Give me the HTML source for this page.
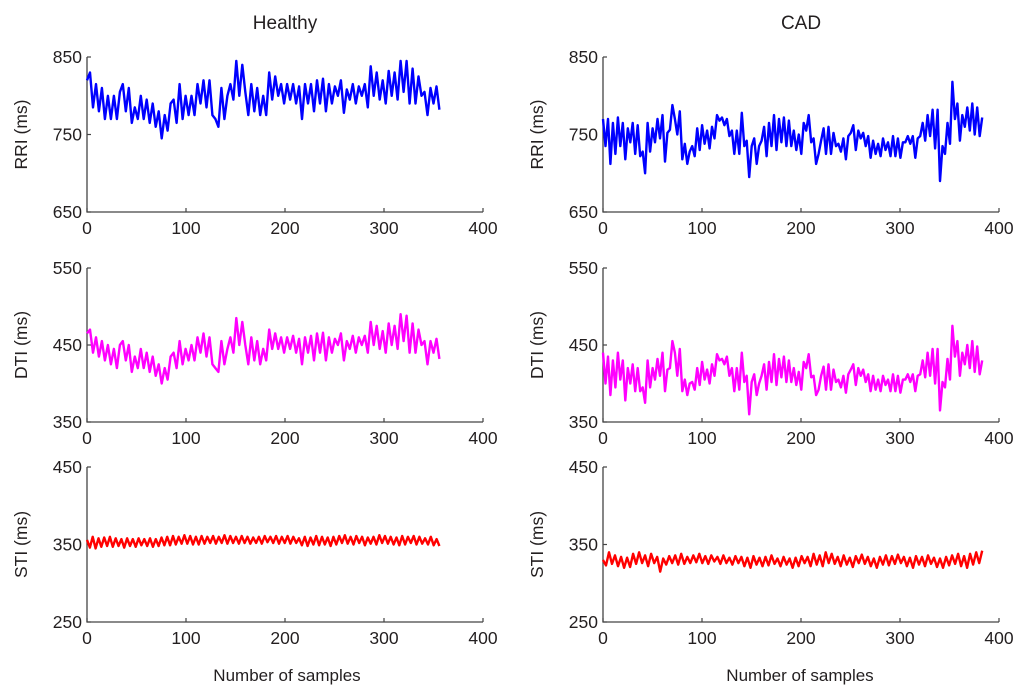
<!DOCTYPE html>
<html><head><meta charset="utf-8"><style>
body{margin:0;background:#fff;}
svg text{font-family:"Liberation Sans",sans-serif;fill:#231f20;}
</style></head><body>
<svg id="fig" width="1024" height="694" viewBox="0 0 1024 694" xmlns="http://www.w3.org/2000/svg">
<text x="285" y="29" font-size="19" text-anchor="middle">Healthy</text>
<text x="801" y="29" font-size="19" text-anchor="middle">CAD</text>
<text x="287" y="681" font-size="17" text-anchor="middle">Number of samples</text>
<text x="800" y="681" font-size="17" text-anchor="middle">Number of samples</text>
</svg>
<script>
const xTicks=[0,100,200,300,400];
const healthyN=356, cadN=383;
const hRRI=[820,830,785,815,780,810,770,800,770,800,770,805,815,780,810,765,785,770,800,770,795,765,790,760,780,745,775,755,790,795,765,815,770,800,775,800,775,815,790,820,785,820,775,770,760,810,770,800,815,795,845,800,840,805,775,815,780,810,775,800,775,830,795,825,800,815,790,815,795,815,790,812,770,815,790,815,780,820,790,822,780,815,790,812,800,820,778,808,795,815,790,812,800,815,785,838,800,830,795,820,790,832,800,830,795,845,805,845,790,835,790,825,800,805,775,810,790,812,782];
const hDTI=[465,470,440,460,435,455,430,450,425,445,420,450,455,430,450,415,435,420,445,420,440,415,435,410,425,400,420,405,435,440,420,455,425,445,430,450,430,460,440,465,435,460,425,420,415,455,425,445,460,440,485,450,480,450,425,460,430,455,425,445,430,470,445,465,445,460,440,460,445,462,440,458,425,460,440,462,430,465,440,466,430,460,440,458,450,465,430,455,445,462,440,460,450,462,440,480,450,475,445,468,440,478,450,475,445,490,455,488,440,478,440,470,450,455,425,455,440,458,432];
const hSTI=[356,346,360,345,358,347,359,348,360,347,358,348,357,346,358,348,357,347,358,349,357,348,358,347,357,348,359,349,360,349,361,350,360,351,362,351,361,350,360,350,361,351,360,352,361,351,360,352,362,351,361,352,360,351,361,352,360,351,359,352,360,351,361,353,360,352,361,351,360,352,361,351,360,352,358,349,360,348,359,350,361,349,360,350,359,348,360,350,361,352,362,351,360,350,361,352,360,349,359,351,360,350,362,352,361,351,360,350,359,349,361,350,360,352,361,350,360,351,358,350,360,349,357,348];
const cRRI=[770,735,770,712,765,725,772,735,765,718,758,740,765,725,762,722,728,700,765,728,758,740,770,745,775,715,752,756,788,770,750,780,718,738,712,728,735,722,758,730,762,738,755,732,760,745,775,768,772,762,770,748,755,725,755,725,778,735,742,695,735,745,712,735,742,760,722,765,735,775,730,770,740,772,735,768,735,755,730,750,725,765,755,775,740,745,712,725,742,758,725,760,725,752,735,738,728,745,718,748,752,762,730,755,745,752,735,748,720,742,725,738,722,745,730,740,722,748,722,745,720,740,740,748,738,748,720,745,748,765,742,775,748,782,732,782,690,735,725,765,738,818,770,790,742,775,760,785,755,790,750,785,748,772];
const cDTI=[440,400,435,385,430,395,440,405,430,378,420,400,425,390,420,390,395,375,430,395,420,405,432,410,440,390,418,420,455,440,410,445,390,405,385,400,402,392,420,398,428,405,418,400,425,410,438,430,432,425,435,410,420,390,420,392,440,402,410,360,402,412,385,400,410,425,392,428,402,438,398,432,408,435,402,430,402,420,398,415,392,428,420,438,408,410,385,392,410,422,392,425,392,418,402,405,395,410,388,412,418,425,398,420,410,418,402,412,390,410,392,405,390,410,398,405,390,412,390,410,388,405,405,412,402,412,390,410,412,430,408,440,410,445,400,445,365,402,395,432,405,475,435,455,410,440,425,450,420,455,415,448,412,430];
const cSTI=[330,323,340,325,336,322,334,320,333,321,338,325,340,326,336,322,338,326,334,315,332,324,335,326,336,324,338,325,334,326,336,327,338,326,335,325,336,328,334,325,336,326,333,324,335,326,334,322,333,320,335,324,333,322,334,323,336,325,332,322,334,324,332,320,333,322,335,326,334,322,338,324,336,322,340,326,338,325,334,322,336,324,333,321,335,326,337,325,334,322,332,320,334,324,336,323,335,325,337,326,334,322,333,320,335,324,334,322,336,325,333,321,332,320,334,323,336,325,338,322,335,320,338,324,340,326,342];
const panels=[
 {d:hRRI,n:healthyN,x0:87,x1:483,yT:57,yB:212,min:650,max:850,ticks:[650,750,850],c:"#0000ff",lab:"RRI (ms)",name:"healthy-rri"},
 {d:hDTI,n:healthyN,x0:87,x1:483,yT:268,yB:422,min:350,max:550,ticks:[350,450,550],c:"#ff00ff",lab:"DTI (ms)",name:"healthy-dti"},
 {d:hSTI,n:healthyN,x0:87,x1:483,yT:467,yB:622,min:250,max:450,ticks:[250,350,450],c:"#ff0000",lab:"STI (ms)",name:"healthy-sti"},
 {d:cRRI,n:cadN,x0:603,x1:999,yT:57,yB:212,min:650,max:850,ticks:[650,750,850],c:"#0000ff",lab:"RRI (ms)",name:"cad-rri"},
 {d:cDTI,n:cadN,x0:603,x1:999,yT:268,yB:422,min:350,max:550,ticks:[350,450,550],c:"#ff00ff",lab:"DTI (ms)",name:"cad-dti"},
 {d:cSTI,n:cadN,x0:603,x1:999,yT:467,yB:622,min:250,max:450,ticks:[250,350,450],c:"#ff0000",lab:"STI (ms)",name:"cad-sti"}
];
const svg=document.getElementById('fig');
const NS="http://www.w3.org/2000/svg";
function mk(t,a,txt){const e=document.createElementNS(NS,t);for(const k in a)e.setAttribute(k,a[k]);if(txt!==undefined)e.textContent=txt;svg.appendChild(e);return e;}
panels.forEach(p=>{
 const sx=v=>p.x0+(v/400)*(p.x1-p.x0);
 const sy=v=>p.yB-(v-p.min)/(p.max-p.min)*(p.yB-p.yT);
 const ax=mk('path',{d:`M${p.x0},${p.yT}V${p.yB}H${p.x1}`,fill:'none',stroke:'#444','stroke-width':1.3});
 
 
 xTicks.forEach(t=>{
  const tk=mk('line',{x1:sx(t),x2:sx(t),y1:p.yB,y2:p.yB-4,stroke:'#444','stroke-width':1.2});
  
  
  const tl=mk('text',{x:sx(t),y:p.yB+22,'font-size':17.5,'text-anchor':'middle'},String(t));
  
  
 });
 p.ticks.forEach(t=>{
  const tk=mk('line',{x1:p.x0,x2:p.x0+4,y1:sy(t),y2:sy(t),stroke:'#444','stroke-width':1.2});
  
  
  const tl=mk('text',{x:p.x0-5,y:sy(t)+6,'font-size':17.5,'text-anchor':'end'},String(t));
  
  
 });
 const cy=(p.yT+p.yB)/2, lx=p.x0-60;
 const yl=mk('text',{x:lx,y:cy,'font-size':17.5,'text-anchor':'middle',transform:`rotate(-90 ${lx} ${cy})`},p.lab);
 
 
 const pts=p.d.map((v,i)=>`${sx(i*p.n/(p.d.length-1)).toFixed(1)},${sy(v).toFixed(1)}`).join(' ');
 const ln=mk('polyline',{points:pts,fill:'none',stroke:p.c,'stroke-width':2.4,'stroke-linejoin':'round'});
 
 
});
</script>
</body></html>
